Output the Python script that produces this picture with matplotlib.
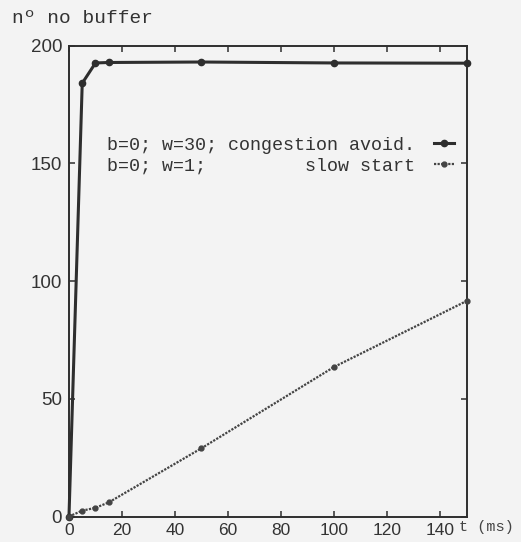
import matplotlib
matplotlib.use("Agg")
import matplotlib.pyplot as plt

# Time axis (ms) and number of buffers in use
t_congestion = [0, 5, 10, 15, 50, 100, 150]
n_congestion = [0, 184, 192.6, 192.8, 193, 192.6, 192.5]

t_slowstart = [0, 5, 10, 15, 50, 100, 150]
n_slowstart = [0, 2.5, 3.7, 6, 29, 63.5, 91.5]

label_congestion = "b=0; w=30; congestion avoid."
label_slowstart = "b=0; w=1;         slow start"

x_ticks = [0, 20, 40, 60, 80, 100, 120, 140]
y_ticks = [0, 50, 100, 150, 200]

bg = "#f3f3f3"
ink = "#2e2e2e"
mono = ["Liberation Mono", "DejaVu Sans Mono"]
sans = ["Liberation Sans", "DejaVu Sans"]

fig = plt.figure(figsize=(5.21, 5.42), dpi=100, facecolor=bg)
ax = fig.add_axes([0.1324, 0.047, 0.7630, 0.869], facecolor=bg)

ax.plot(t_congestion, n_congestion, color=ink, lw=2.2, marker="o",
        markersize=4.5, label=label_congestion, clip_on=False, zorder=3)
ax.plot(t_slowstart, n_slowstart, color="#444444", lw=1.6,
        linestyle=(0, (1, 0.6)), marker="o", markersize=3.5,
        label=label_slowstart, clip_on=False, zorder=3)

ax.set_xlim(0, 150)
ax.set_ylim(0, 200)
ax.set_xticks(x_ticks)
ax.set_yticks(y_ticks)

for s in ax.spines.values():
    s.set_color(ink)
    s.set_linewidth(1.4)

ax.tick_params(axis="both", direction="in", length=4, width=1.1,
               colors=ink, top=True, right=True)
ax.tick_params(axis="x", pad=5, labelsize=12.5)
ax.tick_params(axis="y", pad=5, labelsize=13.5)
for lbl in ax.get_xticklabels() + ax.get_yticklabels():
    lbl.set_family(sans)
    lbl.set_color("#333333")

fig.text(0.023, 0.957, "n\u00ba no buffer", family=mono, fontsize=14,
         color="#333333", ha="left", va="baseline")
fig.text(0.881, 0.021, "t (ms)", family=mono, fontsize=11,
         color="#444444", ha="left", va="baseline")

leg = ax.legend(loc="upper right", bbox_to_anchor=(0.968, 0.806),
                frameon=False, markerfirst=False, numpoints=1,
                handlelength=1.1, handletextpad=1.0, labelspacing=0.2,
                borderpad=0, borderaxespad=0,
                prop={"family": mono, "size": 13.2})
for txt in leg.get_texts():
    txt.set_color("#333333")

fig.savefig("out.png", dpi=100, facecolor=bg)
